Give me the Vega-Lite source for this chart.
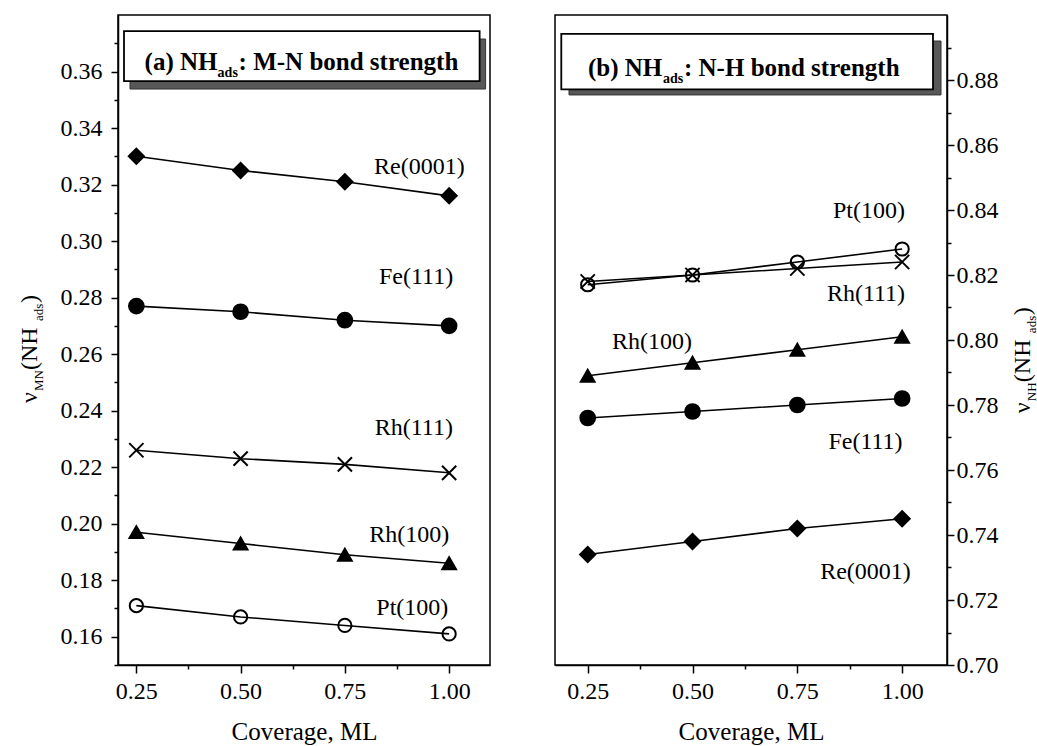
{
  "$schema": "https://vega.github.io/schema/vega-lite/v6.json",
  "background": "white",
  "autosize": {"type": "pad"},
  "padding": {"left": 17, "top": 14, "right": 5, "bottom": 2},
  "config": {
    "font": "Liberation Serif",
    "view": {"stroke": "black", "strokeWidth": 1.5},
    "axis": {
      "grid": false,
      "labelOverlap": false,
      "labelBound": false,
      "tickCount": 100,
      "domainColor": "black", "domainWidth": 1.5,
      "tickColor": "black", "tickWidth": 1.5,
      "labelColor": "black", "labelFont": "Liberation Serif", "labelFontSize": 24,
      "titleColor": "black", "titleFont": "Liberation Serif", "titleFontSize": 25, "titleFontWeight": "normal"
    },
    "text": {"font": "Liberation Serif", "color": "black"}
  },
  "datasets": {
    "mn": [
      {"surface": "Re(0001)", "coverage": 0.25, "value": 0.330},
      {"surface": "Re(0001)", "coverage": 0.50, "value": 0.325},
      {"surface": "Re(0001)", "coverage": 0.75, "value": 0.321},
      {"surface": "Re(0001)", "coverage": 1.00, "value": 0.316},
      {"surface": "Fe(111)", "coverage": 0.25, "value": 0.277},
      {"surface": "Fe(111)", "coverage": 0.50, "value": 0.275},
      {"surface": "Fe(111)", "coverage": 0.75, "value": 0.272},
      {"surface": "Fe(111)", "coverage": 1.00, "value": 0.270},
      {"surface": "Rh(111)", "coverage": 0.25, "value": 0.226},
      {"surface": "Rh(111)", "coverage": 0.50, "value": 0.223},
      {"surface": "Rh(111)", "coverage": 0.75, "value": 0.221},
      {"surface": "Rh(111)", "coverage": 1.00, "value": 0.218},
      {"surface": "Rh(100)", "coverage": 0.25, "value": 0.197},
      {"surface": "Rh(100)", "coverage": 0.50, "value": 0.193},
      {"surface": "Rh(100)", "coverage": 0.75, "value": 0.189},
      {"surface": "Rh(100)", "coverage": 1.00, "value": 0.186},
      {"surface": "Pt(100)", "coverage": 0.25, "value": 0.171},
      {"surface": "Pt(100)", "coverage": 0.50, "value": 0.167},
      {"surface": "Pt(100)", "coverage": 0.75, "value": 0.164},
      {"surface": "Pt(100)", "coverage": 1.00, "value": 0.161}
    ],
    "nh": [
      {"surface": "Pt(100)", "coverage": 0.25, "value": 0.817},
      {"surface": "Pt(100)", "coverage": 0.50, "value": 0.820},
      {"surface": "Pt(100)", "coverage": 0.75, "value": 0.824},
      {"surface": "Pt(100)", "coverage": 1.00, "value": 0.828},
      {"surface": "Rh(111)", "coverage": 0.25, "value": 0.818},
      {"surface": "Rh(111)", "coverage": 0.50, "value": 0.820},
      {"surface": "Rh(111)", "coverage": 0.75, "value": 0.822},
      {"surface": "Rh(111)", "coverage": 1.00, "value": 0.824},
      {"surface": "Rh(100)", "coverage": 0.25, "value": 0.789},
      {"surface": "Rh(100)", "coverage": 0.50, "value": 0.793},
      {"surface": "Rh(100)", "coverage": 0.75, "value": 0.797},
      {"surface": "Rh(100)", "coverage": 1.00, "value": 0.801},
      {"surface": "Fe(111)", "coverage": 0.25, "value": 0.776},
      {"surface": "Fe(111)", "coverage": 0.50, "value": 0.778},
      {"surface": "Fe(111)", "coverage": 0.75, "value": 0.780},
      {"surface": "Fe(111)", "coverage": 1.00, "value": 0.782},
      {"surface": "Re(0001)", "coverage": 0.25, "value": 0.734},
      {"surface": "Re(0001)", "coverage": 0.50, "value": 0.738},
      {"surface": "Re(0001)", "coverage": 0.75, "value": 0.742},
      {"surface": "Re(0001)", "coverage": 1.00, "value": 0.745}
    ]
  },
  "spacing": 63,
  "hconcat": [
    {
      "width": 372,
      "height": 650,
      "data": {"name": "mn"},
      "layer": [
        {"data": {"values": [{}]}, "mark": {"type": "rect", "fill": "#585858", "stroke": "#333333", "strokeWidth": 1},
         "encoding": {"x": {"datum": 0.2348}, "x2": {"datum": 1.0875}, "y": {"datum": 0.3715}, "y2": {"datum": 0.3538}}},
        {"data": {"values": [{}]}, "mark": {"type": "rect", "fill": "white", "stroke": "black", "strokeWidth": 1.8},
         "encoding": {"x": {"datum": 0.2204}, "x2": {"datum": 1.0731}, "y": {"datum": 0.3743}, "y2": {"datum": 0.3566}}},
        {"data": {"values": [{}]}, "mark": {"type": "text", "text": "(a) NH", "fontWeight": "bold", "fontSize": 25, "align": "left", "baseline": "alphabetic"},
         "encoding": {"x": {"datum": 0.2698}, "y": {"datum": 0.3604}}},
        {"data": {"values": [{}]}, "mark": {"type": "text", "text": "ads", "fontWeight": "bold", "fontSize": 14, "align": "left", "baseline": "alphabetic", "dx": 73, "dy": 7},
         "encoding": {"x": {"datum": 0.2698}, "y": {"datum": 0.3604}}},
        {"data": {"values": [{}]}, "mark": {"type": "text", "text": ": M-N bond strength", "fontWeight": "bold", "fontSize": 25, "align": "left", "baseline": "alphabetic", "dx": 94},
         "encoding": {"x": {"datum": 0.2698}, "y": {"datum": 0.3604}}},
        {
          "mark": {"type": "line", "color": "black", "strokeWidth": 1.6},
          "encoding": {
            "x": {"field": "coverage", "type": "quantitative",
              "scale": {"domain": [0.206, 1.098], "nice": false, "zero": false},
              "axis": {"title": "Coverage, ML", "tickCount": 100, "labelOverlap": false, "values": [0.25, 0.375, 0.5, 0.625, 0.75, 0.875, 1.0],
                "labelExpr": "round(datum.value*8) % 2 == 0 ? format(datum.value, '.2f') : ''",
                "tickSize": {"condition": {"test": "round(datum.value*8) % 2 == 0", "value": 8}, "value": 4},
                "labelPadding": 6, "titlePadding": 16}},
            "y": {"field": "value", "type": "quantitative",
              "scale": {"domain": [0.15, 0.38], "nice": false, "zero": false},
              "axis": {"title": null, "tickCount": 100, "labelOverlap": false, "values": [0.15, 0.16, 0.17, 0.18, 0.19, 0.2, 0.21, 0.22, 0.23, 0.24, 0.25, 0.26, 0.27, 0.28, 0.29, 0.3, 0.31, 0.32, 0.33, 0.34, 0.35, 0.36, 0.37],
                "labelExpr": "round(datum.value*100) % 2 == 0 ? format(datum.value, '.2f') : ''",
                "tickSize": {"condition": {"test": "round(datum.value*100) % 2 == 0", "value": 7}, "value": 4},
                "labelPadding": 9}},
            "detail": {"field": "surface"}
          }
        },
        {
          "mark": {"type": "point", "filled": true, "stroke": "black", "strokeWidth": 2, "opacity": 1},
          "encoding": {
            "x": {"field": "coverage", "type": "quantitative"},
            "y": {"field": "value", "type": "quantitative"},
            "shape": {"field": "surface", "legend": null, "scale": {"domain": ["Re(0001)", "Fe(111)", "Rh(111)", "Rh(100)", "Pt(100)"], "range": ["diamond", "circle", "M-1,-1L1,1M-1,1L1,-1", "triangle-up", "circle"]}},
            "fill": {"field": "surface", "legend": null, "scale": {"domain": ["Re(0001)", "Fe(111)", "Rh(111)", "Rh(100)", "Pt(100)"], "range": ["black", "black", "black", "black", "transparent"]}},
            "size": {"field": "surface", "legend": null, "scale": {"domain": ["Re(0001)", "Fe(111)", "Rh(111)", "Rh(100)", "Pt(100)"], "range": [230, 175, 150, 260, 130]}}
          }
        },
        {"data": {"values": [{}]}, "mark": {"type": "text", "text": "Re(0001)", "fontSize": 24, "align": "center", "baseline": "alphabetic"},
         "encoding": {"x": {"datum": 0.9285}, "y": {"datum": 0.3236}}},
        {"data": {"values": [{}]}, "mark": {"type": "text", "text": "Fe(111)", "fontSize": 24, "align": "center", "baseline": "alphabetic"},
         "encoding": {"x": {"datum": 0.9206}, "y": {"datum": 0.2849}}},
        {"data": {"values": [{}]}, "mark": {"type": "text", "text": "Rh(111)", "fontSize": 24, "align": "center", "baseline": "alphabetic"},
         "encoding": {"x": {"datum": 0.9153}, "y": {"datum": 0.2314}}},
        {"data": {"values": [{}]}, "mark": {"type": "text", "text": "Rh(100)", "fontSize": 24, "align": "center", "baseline": "alphabetic"},
         "encoding": {"x": {"datum": 0.9045}, "y": {"datum": 0.1935}}},
        {"data": {"values": [{}]}, "mark": {"type": "text", "text": "Pt(100)", "fontSize": 24, "align": "center", "baseline": "alphabetic"},
         "encoding": {"x": {"datum": 0.9117}, "y": {"datum": 0.1676}}},
        {"data": {"values": [{}]}, "mark": {"type": "text", "text": "ν", "fontSize": 24, "angle": 270, "align": "left", "baseline": "alphabetic"},
         "encoding": {"x": {"datum": 0.0125}, "y": {"datum": 0.2427}}},
        {"data": {"values": [{}]}, "mark": {"type": "text", "text": "MN", "fontSize": 13, "angle": 270, "align": "left", "baseline": "alphabetic", "dx": 12, "dy": 6},
         "encoding": {"x": {"datum": 0.0125}, "y": {"datum": 0.2427}}},
        {"data": {"values": [{}]}, "mark": {"type": "text", "text": " (NH", "fontSize": 24, "angle": 270, "align": "left", "baseline": "alphabetic", "dx": 33},
         "encoding": {"x": {"datum": 0.0125}, "y": {"datum": 0.2427}}},
        {"data": {"values": [{}]}, "mark": {"type": "text", "text": "ads", "fontSize": 13, "angle": 270, "align": "left", "baseline": "alphabetic", "dx": 82, "dy": 6},
         "encoding": {"x": {"datum": 0.0125}, "y": {"datum": 0.2427}}},
        {"data": {"values": [{}]}, "mark": {"type": "text", "text": ")", "fontSize": 24, "angle": 270, "align": "left", "baseline": "alphabetic", "dx": 100},
         "encoding": {"x": {"datum": 0.0125}, "y": {"datum": 0.2427}}}
      ]
    },
    {
      "width": 392,
      "height": 650,
      "data": {"name": "nh"},
      "layer": [
        {"data": {"values": [{}]}, "mark": {"type": "rect", "fill": "#585858", "stroke": "#333333", "strokeWidth": 1},
         "encoding": {"x": {"datum": 0.2054}, "x2": {"datum": 1.0927}, "y": {"datum": 0.892}, "y2": {"datum": 0.8754}}},
        {"data": {"values": [{}]}, "mark": {"type": "rect", "fill": "white", "stroke": "black", "strokeWidth": 1.8},
         "encoding": {"x": {"datum": 0.187}, "x2": {"datum": 1.0736}, "y": {"datum": 0.8942}, "y2": {"datum": 0.8771}}},
        {"data": {"values": [{}]}, "mark": {"type": "text", "text": "(b) NH", "fontWeight": "bold", "fontSize": 25, "align": "left", "baseline": "alphabetic"},
         "encoding": {"x": {"datum": 0.2507}, "y": {"datum": 0.8812}}},
        {"data": {"values": [{}]}, "mark": {"type": "text", "text": "ads", "fontWeight": "bold", "fontSize": 14, "align": "left", "baseline": "alphabetic", "dx": 75, "dy": 7},
         "encoding": {"x": {"datum": 0.2507}, "y": {"datum": 0.8812}}},
        {"data": {"values": [{}]}, "mark": {"type": "text", "text": ": N-H bond strength", "fontWeight": "bold", "fontSize": 25, "align": "left", "baseline": "alphabetic", "dx": 96},
         "encoding": {"x": {"datum": 0.2507}, "y": {"datum": 0.8812}}},
        {
          "mark": {"type": "line", "color": "black", "strokeWidth": 1.6},
          "encoding": {
            "x": {"field": "coverage", "type": "quantitative",
              "scale": {"domain": [0.172, 1.107], "nice": false, "zero": false},
              "axis": {"title": "Coverage, ML", "tickCount": 100, "labelOverlap": false, "values": [0.25, 0.375, 0.5, 0.625, 0.75, 0.875, 1.0],
                "labelExpr": "round(datum.value*8) % 2 == 0 ? format(datum.value, '.2f') : ''",
                "tickSize": {"condition": {"test": "round(datum.value*8) % 2 == 0", "value": 8}, "value": 4},
                "labelPadding": 6, "titlePadding": 16}},
            "y": {"field": "value", "type": "quantitative",
              "scale": {"domain": [0.70, 0.90], "nice": false, "zero": false},
              "axis": {"orient": "right", "title": null, "tickCount": 100, "labelOverlap": false, "values": [0.7, 0.71, 0.72, 0.73, 0.74, 0.75, 0.76, 0.77, 0.78, 0.79, 0.8, 0.81, 0.82, 0.83, 0.84, 0.85, 0.86, 0.87, 0.88, 0.89],
                "labelExpr": "round(datum.value*100) % 2 == 0 ? format(datum.value, '.2f') : ''",
                "tickSize": {"condition": {"test": "round(datum.value*100) % 2 == 0", "value": 7}, "value": 4},
                "labelPadding": 2}},
            "detail": {"field": "surface"}
          }
        },
        {
          "mark": {"type": "point", "filled": true, "stroke": "black", "strokeWidth": 2, "opacity": 1},
          "encoding": {
            "x": {"field": "coverage", "type": "quantitative"},
            "y": {"field": "value", "type": "quantitative"},
            "shape": {"field": "surface", "legend": null, "scale": {"domain": ["Re(0001)", "Fe(111)", "Rh(111)", "Rh(100)", "Pt(100)"], "range": ["diamond", "circle", "M-1,-1L1,1M-1,1L1,-1", "triangle-up", "circle"]}},
            "fill": {"field": "surface", "legend": null, "scale": {"domain": ["Re(0001)", "Fe(111)", "Rh(111)", "Rh(100)", "Pt(100)"], "range": ["black", "black", "black", "black", "transparent"]}},
            "size": {"field": "surface", "legend": null, "scale": {"domain": ["Re(0001)", "Fe(111)", "Rh(111)", "Rh(100)", "Pt(100)"], "range": [230, 175, 150, 260, 130]}}
          }
        },
        {"data": {"values": [{}]}, "mark": {"type": "text", "text": "Pt(100)", "fontSize": 24, "align": "center", "baseline": "alphabetic"},
         "encoding": {"x": {"datum": 0.921}, "y": {"datum": 0.8376}}},
        {"data": {"values": [{}]}, "mark": {"type": "text", "text": "Rh(111)", "fontSize": 24, "align": "center", "baseline": "alphabetic"},
         "encoding": {"x": {"datum": 0.9138}, "y": {"datum": 0.812}}},
        {"data": {"values": [{}]}, "mark": {"type": "text", "text": "Rh(100)", "fontSize": 24, "align": "center", "baseline": "alphabetic"},
         "encoding": {"x": {"datum": 0.4034}, "y": {"datum": 0.7973}}},
        {"data": {"values": [{}]}, "mark": {"type": "text", "text": "Fe(111)", "fontSize": 24, "align": "center", "baseline": "alphabetic"},
         "encoding": {"x": {"datum": 0.9126}, "y": {"datum": 0.7664}}},
        {"data": {"values": [{}]}, "mark": {"type": "text", "text": "Re(0001)", "fontSize": 24, "align": "center", "baseline": "alphabetic"},
         "encoding": {"x": {"datum": 0.9126}, "y": {"datum": 0.7264}}},
        {"data": {"values": [{}]}, "mark": {"type": "text", "text": "ν", "fontSize": 24, "angle": 270, "align": "left", "baseline": "alphabetic"},
         "encoding": {"x": {"datum": 1.305}, "y": {"datum": 0.7775}}},
        {"data": {"values": [{}]}, "mark": {"type": "text", "text": "NH", "fontSize": 13, "angle": 270, "align": "left", "baseline": "alphabetic", "dx": 12, "dy": 6},
         "encoding": {"x": {"datum": 1.305}, "y": {"datum": 0.7775}}},
        {"data": {"values": [{}]}, "mark": {"type": "text", "text": " (NH", "fontSize": 24, "angle": 270, "align": "left", "baseline": "alphabetic", "dx": 31},
         "encoding": {"x": {"datum": 1.305}, "y": {"datum": 0.7775}}},
        {"data": {"values": [{}]}, "mark": {"type": "text", "text": "ads", "fontSize": 13, "angle": 270, "align": "left", "baseline": "alphabetic", "dx": 80, "dy": 6},
         "encoding": {"x": {"datum": 1.305}, "y": {"datum": 0.7775}}},
        {"data": {"values": [{}]}, "mark": {"type": "text", "text": ")", "fontSize": 24, "angle": 270, "align": "left", "baseline": "alphabetic", "dx": 98},
         "encoding": {"x": {"datum": 1.305}, "y": {"datum": 0.7775}}}
      ]
    }
  ]
}
